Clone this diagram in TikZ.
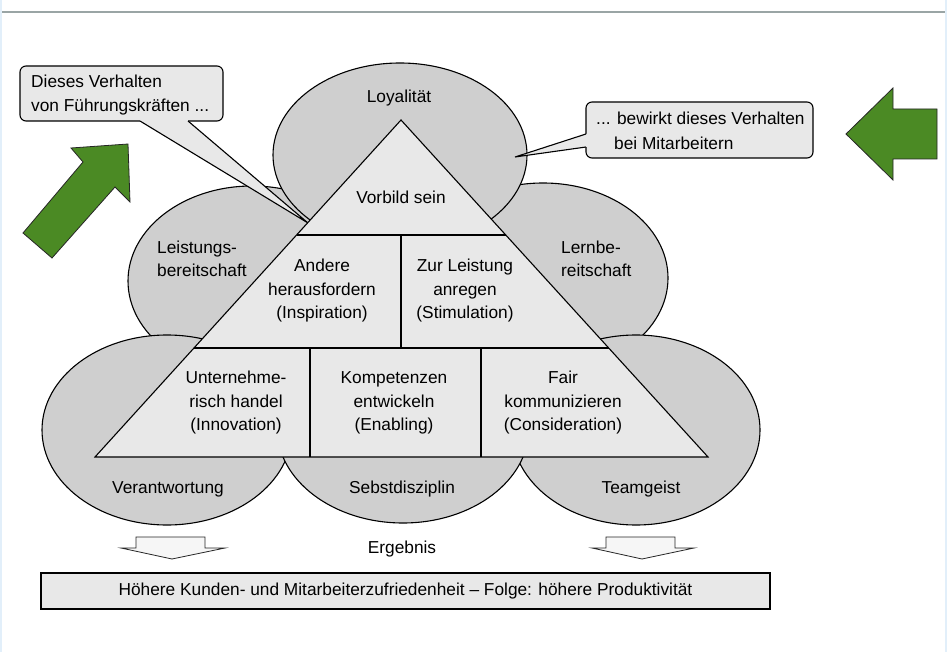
\documentclass[tikz,border=0pt]{standalone}
\usepackage{fontspec}
\setmainfont{Liberation Sans}
\usetikzlibrary{shapes.geometric,calc}
\definecolor{ellfill}{HTML}{CFCFCF}
\definecolor{lightfill}{HTML}{E8E8E8}
\definecolor{arrowgreen}{HTML}{4B8A24}
\definecolor{rulegray}{HTML}{9AA5A5}
\definecolor{edgeblue}{HTML}{E2EFFA}
\definecolor{downfill}{HTML}{F6F6F6}
\begin{document}
\begin{tikzpicture}[x=1pt,y=-1pt,
  every node/.style={font=\fontsize{17.3}{23.5}\selectfont, inner sep=0pt, text=black},
  ell/.style={ellipse, draw=black, fill=ellfill, line width=1.1pt, minimum width=#1},
  outl/.style={draw=black, line width=1.1pt},
  callbox/.style={draw=black, fill=lightfill, line width=1.1pt, rounded corners=6pt},
  greenarrow/.style={fill=arrowgreen, draw=black!85, line width=0.8pt, line join=miter},
  downarrow/.style={fill=downfill, draw=black!85, line width=0.8pt},
  lbl/.style={align=center},
  lbll/.style={align=left, anchor=west}
]
\useasboundingbox (0,0) rectangle (947,652);
\fill[white] (0,0) rectangle (947,652);
\fill[edgeblue] (0,0) rectangle (2,652);
\fill[edgeblue] (945,0) rectangle (947,652);
\draw[rulegray, line width=2pt] (2,12) -- (945,12);

% ellipses (back to front)
\node[ell=248pt, minimum height=190pt] (lei) at (252,281) {};
\node[ell=250pt, minimum height=190pt] (lern) at (543,278) {};
\node[ell=254pt, minimum height=184pt] (loy) at (400,155) {};
\node[ell=250pt, minimum height=190pt] (ver) at (167,430) {};
\node[ell=248pt, minimum height=190pt] (team) at (636,430) {};
\node[ell=252pt, minimum height=190pt] (seb) at (403,428) {};

% callouts
\coordinate (lb1) at (140,121);
\coordinate (lb2) at (188,121);
\coordinate (ltip) at (308,223);
\draw[callbox] (20,66) rectangle (223,121);
\fill[lightfill] (140,117) -- (188,117) -- (lb2) -- (ltip) -- (lb1) -- cycle;
\draw[outl, line join=miter] (lb1) -- (ltip) -- (lb2);
\node[lbll] (callL) at (31,95) {Dieses Verhalten\\von Führungskräften ...};

\coordinate (rb1) at (586,134);
\coordinate (rb2) at (586,147);
\coordinate (rtip) at (515,157);
\draw[callbox] (586,102) rectangle (813,158);
\fill[lightfill] (590,134) -- (590,147) -- (rb2) -- (rtip) -- (rb1) -- cycle;
\draw[outl, line join=miter] (rb1) -- (rtip) -- (rb2);
\node[anchor=west] (callR1) at (596,118) {... bewirkt dieses Verhalten};
\node[anchor=west] (callR2) at (614,143) {bei Mitarbeitern};

% triangle
\coordinate (A) at (401,120);
\coordinate (B) at (95,457);
\coordinate (C) at (708,457);
\draw[outl, fill=lightfill, line join=miter] (A) -- (B) -- (C) -- cycle;
\coordinate (l1) at ($(A)!0.3412!(B)$);
\coordinate (r1) at ($(A)!0.3412!(C)$);
\coordinate (l2) at ($(A)!0.6766!(B)$);
\coordinate (r2) at ($(A)!0.6766!(C)$);
\draw[outl] (l1) -- (r1);
\draw[outl] (l2) -- (r2);
\draw[outl] (401,235) -- (401,348);
\draw[outl] (310,348) -- (310,457);
\draw[outl] (481,348) -- (481,457);

% labels
\node[lbl] (tLoy) at (399,98) {Loyalität};
\node[lbll] (tLei) at (157,259) {Leistungs-\\bereitschaft};
\node[lbll] (tLern) at (561,259) {Lernbe-\\reitschaft};
\node[lbl] (tVer) at (168,489) {Verantwortung};
\node[lbl] (tSeb) at (402,489) {Sebstdisziplin};
\node[lbl] (tTeam) at (641,489) {Teamgeist};

\node[lbl] (tVor) at (401,197) {Vorbild sein};
\node[lbl] (tAnd) at (322,291) {Andere\\herausfordern\\(Inspiration)};
\node[lbl] (tZur) at (465,291) {Zur Leistung\\anregen\\(Stimulation)};
\node[lbl] (tUnt) at (236,403) {Unternehme-\\risch handel\\(Innovation)};
\node[lbl] (tKom) at (394,403) {Kompetenzen\\entwickeln\\(Enabling)};
\node[lbl] (tFair) at (563,403) {Fair\\kommunizieren\\(Consideration)};

% green arrows
\draw[greenarrow] (128,144) -- (130,202) -- (115,187) -- (52,258) -- (23,233) -- (83,162) -- (71,148) -- cycle;
\draw[greenarrow] (846,134) -- (893,88) -- (893,109) -- (937,109) -- (937,159) -- (893,159) -- (893,180) -- cycle;

% result
\draw[downarrow] (136,537) -- (205,537) -- (205,548) -- (225,548) -- (172,559) -- (121,548) -- (136,548) -- cycle;
\draw[downarrow] (606,537) -- (675,537) -- (675,548) -- (694,548) -- (642,559) -- (592,548) -- (606,548) -- cycle;
\node[lbl] (erg) at (402,549) {Ergebnis};
\node[draw=black, fill=lightfill, line width=1.1pt, minimum width=729pt, minimum height=36pt] (res) at (405.5,591) {Höhere Kunden- und Mitarbeiterzufriedenheit – Folge: höhere Produktivität};
\end{tikzpicture}
\end{document}
